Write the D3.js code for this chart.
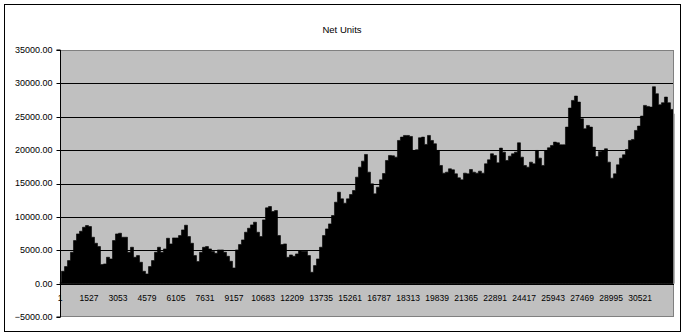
<!DOCTYPE html>
<html lang="en">

<head>
    <meta charset="utf-8" />
    <script src="https://cdnjs.cloudflare.com/ajax/libs/d3/7.8.5/d3.min.js"></script>
    <style type="text/css">
        body {
            margin: 0;
            background: #fff;
        }

        svg text {
            font-family: Arial, "Liberation Sans", sans-serif;
            fill: #000;
        }
    </style>
</head>

<body>
    <div class="viz-box"></div>
    <script type="text/javascript">
        // the category axis is just the row number of the sheet
        var rowCount = 32300;
        var sampleStep = 157.8;   // rows between two read-off samples
        var labelStep = 1526;

        var chartTitle = "Net Units";
        var yTicks = [-5000, 0, 5000, 10000, 15000, 20000, 25000, 30000, 35000];

        // net units, every ~158 rows
        var netUnits = [
            200, 1850, 2550, 3450, 4700, 6450, 7450, 7850, 8450, 8700,
            8550, 6950, 6050, 5550, 2850, 2950, 3950, 3700, 6450, 7450,
            7550, 6950, 6950, 4700, 5450, 3950, 4200, 3200, 1850, 1450,
            2550, 3450, 4700, 5450, 4700, 5200, 6800, 5950, 6850, 6850,
            7200, 8050, 8750, 7050, 6050, 4200, 3300, 4700, 5450, 5550,
            5200, 4800, 4550, 5050, 5050, 4700, 4100, 3350, 2350, 5050,
            5850, 6550, 7700, 8300, 8800, 9200, 7700, 7050, 9550, 11350,
            11550, 10800, 10950, 7200, 5850, 5950, 3950, 4300, 4100, 4450,
            4950, 4850, 4850, 4200, 1700, 2700, 3700, 5450, 7200, 8200,
            8950, 10200, 12200, 13700, 12700, 12050, 12700, 13350, 13950, 15950,
            17450, 18350, 19350, 16700, 14950, 13450, 14450, 15550, 16500, 18450,
            19200, 19150, 18950, 21450, 21950, 22200, 22200, 22050, 19950, 20050,
            21850, 21950, 20850, 22200, 21450, 20950, 19950, 17700, 16550, 16700,
            17200, 17050, 16450, 15850, 15550, 16550, 16450, 17100, 16700, 16550,
            16850, 16550, 17950, 18550, 19450, 19200, 18100, 20300, 19700, 18450,
            19100, 19450, 19700, 21100, 18950, 17700, 17450, 18200, 17950, 19950,
            18800, 17700, 19950, 20350, 20700, 21200, 21100, 20800, 20800, 23450,
            26300, 27450, 28100, 27200, 24700, 23200, 23700, 23450, 20450, 19050,
            19800, 19950, 20200, 18200, 15800, 16450, 17800, 18800, 19300, 20100,
            21450, 21600, 22950, 23600, 25100, 26700, 26550, 26450, 29500, 28450,
            26800, 27100, 27950, 27100, 26100, 25450
        ];

        var rows = netUnits.map(function (v, i) {
            return Math.min(rowCount, Math.round(1 + i * sampleStep));
        });
        var xLabels = d3.range(1, rowCount - labelStep / 2, labelStep);

        let width = 685, height = 335;
        let plot = { left: 60, right: 674, top: 50, bottom: 317 };

        var svg = d3.select("div.viz-box")
            .append("svg")
            .attr("width", width)
            .attr("height", height);

        // outer chart border
        svg.append("rect")
            .attr("x", 4.5)
            .attr("y", 4.5)
            .attr("width", 676)
            .attr("height", 327)
            .attr("fill", "#fff")
            .attr("stroke", "#000")
            .attr("stroke-width", 1);

        svg.append("text")
            .attr("x", 342)
            .attr("y", 33)
            .attr("text-anchor", "middle")
            .style("font-size", "9.5px")
            .text(chartTitle);

        var x = d3.scaleLinear()
            .domain([1, rowCount])
            .range([plot.left, plot.right]);

        var y = d3.scaleLinear()
            .domain([yTicks[0], yTicks[yTicks.length - 1]])
            .range([plot.bottom, plot.top]);

        // grey plot area
        svg.append("rect")
            .attr("x", plot.left)
            .attr("y", plot.top)
            .attr("width", plot.right - plot.left)
            .attr("height", plot.bottom - plot.top)
            .attr("fill", "#c0c0c0");

        svg.append("g")
            .selectAll("line")
            .data(yTicks.slice(1, -1))
            .enter()
            .append("line")
            .attr("x1", plot.left)
            .attr("x2", plot.right)
            .attr("y1", function (d) { return Math.round(y(d)) + 0.5; })
            .attr("y2", function (d) { return Math.round(y(d)) + 0.5; })
            .attr("stroke", "#000")
            .attr("stroke-width", 1);

        // step curve gives the spiky, column-like edge of the original
        var area = d3.area()
            .curve(d3.curveStep)
            .x(function (d, i) { return x(rows[i]); })
            .y0(y(0))
            .y1(function (d) { return y(d); });

        svg.append("path")
            .datum(netUnits)
            .attr("d", area)
            .attr("fill", "#000")
            .attr("stroke", "#000")
            .attr("stroke-width", 0.6);

        svg.append("rect")
            .attr("x", plot.left + 0.5)
            .attr("y", plot.top + 0.5)
            .attr("width", plot.right - plot.left - 1)
            .attr("height", plot.bottom - plot.top - 1)
            .attr("fill", "none")
            .attr("stroke", "#808080")
            .attr("stroke-width", 1);

        // value axis
        var yAxis = svg.append("g")
            .attr("transform", "translate(" + (plot.left + 0.5) + ",0)")
            .call(d3.axisLeft(y)
                .tickValues(yTicks)
                .tickFormat(d3.format(".2f"))
                .tickSize(4)
                .tickPadding(4)
                .offset(0));
        yAxis.attr("font-family", null).attr("font-size", null);
        yAxis.selectAll("text").style("font-size", "9px");
        yAxis.selectAll(".tick line").attr("transform", function (d) {
            return "translate(0," + (Math.round(y(d)) + 0.5 - y(d)) + ")";
        });

        // category axis sits on the zero line
        var xAxis = svg.append("g")
            .attr("transform", "translate(0," + (Math.round(y(0)) + 0.5) + ")")
            .call(d3.axisBottom(x)
                .tickValues(xLabels)
                .tickFormat(d3.format("d"))
                .tickSize(0)
                .tickPadding(10)
                .offset(0));
        xAxis.attr("font-family", null).attr("font-size", null);
        xAxis.selectAll("text").style("font-size", "8.5px");
        xAxis.select(".domain").attr("stroke", "#000");
    </script>
</body>

</html>
